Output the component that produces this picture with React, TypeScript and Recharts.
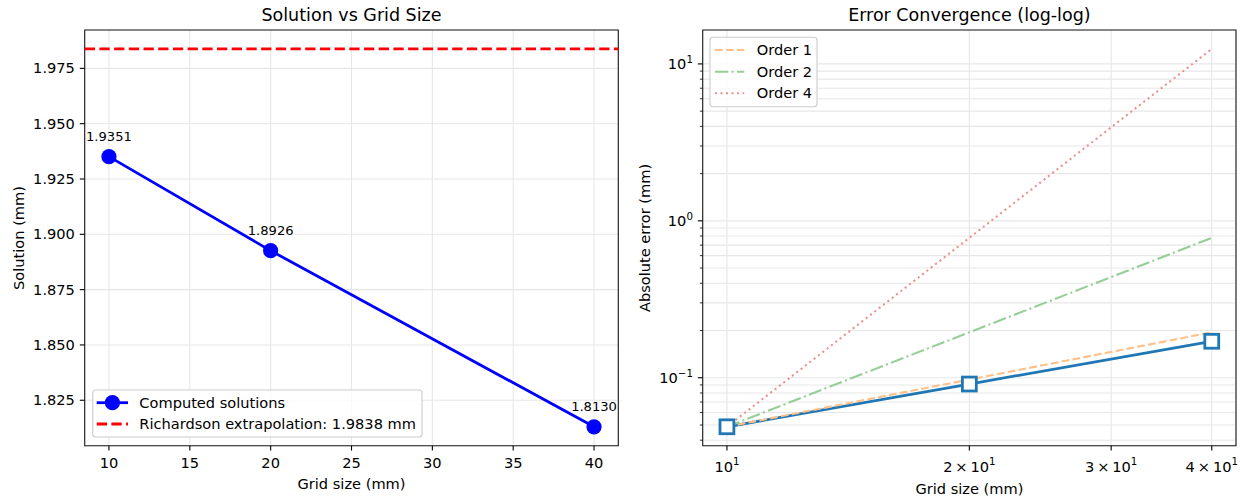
import React from 'react';
import { LineChart, Line, XAxis, YAxis, CartesianGrid, ReferenceLine, ReferenceArea, LabelList } from 'recharts';

// ---------- data ----------
const gridSizes = [10, 20, 40];
const solutions = [1.9351, 1.8926, 1.813];
const richardsonValue = 1.9838;
const absErrors = [0.0487, 0.0912, 0.1708];
const order1Ref = [0.0487, 0.0974, 0.1948];
const order2Ref = [0.0487, 0.1948, 0.7792];
const order4Ref = [0.0487, 0.7792, 12.467];

const leftXTicks = [10, 15, 20, 25, 30, 35, 40];
const leftYTicks = [1.825, 1.85, 1.875, 1.9, 1.925, 1.95, 1.975];
const rightXTicks = [10, 20, 30, 40];
const rightXTickMantissa = ['', '2', '3', '4'];
const rightYTicks = [
  0.04, 0.05, 0.06, 0.07, 0.08, 0.09,
  0.1, 0.2, 0.3, 0.4, 0.5, 0.6, 0.7, 0.8, 0.9,
  1, 2, 3, 4, 5, 6, 7, 8, 9, 10,
];
const rightYMajor = [0.1, 1, 10];
const rightYExponents = ['\u22121', '0', '1'];

const leftData = gridSizes.map((g, i) => ({ grid: g, solution: solutions[i] }));
const rightData = gridSizes.map((g, i) => ({
  grid: g,
  error: absErrors[i],
  o1: order1Ref[i],
  o2: order2Ref[i],
  o4: order4Ref[i],
}));

// ---------- styles ----------
const FONT = 'DejaVu Sans, sans-serif';
const TICK_FS = 14.6;
const SUP_FS = 10.2;
const TITLE_FS = 17.5;
const ANN_FS = 13.1;
const GRID = '#e7e7e7';
const FRAME = '#1a1a1a';

const LeftXTick = (p: any) => (
  <g>
    <line x1={p.x} x2={p.x} y1={p.y} y2={p.y + 4.9} stroke="#000" strokeWidth={1.1} />
    <text x={p.x} y={p.y + 22.6} textAnchor="middle" fontSize={TICK_FS} fill="#000" fontFamily={FONT}>
      {p.payload.value}
    </text>
  </g>
);

const LeftYTick = (p: any) => (
  <g>
    <line x1={p.x - 4.9} x2={p.x} y1={p.y} y2={p.y} stroke="#000" strokeWidth={1.1} />
    <text x={p.x - 9.8} y={p.y + 5.1} textAnchor="end" fontSize={TICK_FS} fill="#000" fontFamily={FONT}>
      {Number(p.payload.value).toFixed(3)}
    </text>
  </g>
);

const RightXTick = (p: any) => {
  const idx = rightXTicks.indexOf(p.payload.value);
  const m = rightXTickMantissa[idx] || '';
  return (
    <g>
      <line x1={p.x} x2={p.x} y1={p.y} y2={p.y + 4.9} stroke="#000" strokeWidth={1.1} />
      <text x={p.x} y={p.y + 25.8} textAnchor="middle" fontSize={TICK_FS} fill="#000" fontFamily={FONT}>
        {(m ? m + '\u2009\u00d7\u2009' : '') + '10'}
        <tspan dy={-6.3} fontSize={SUP_FS}>1</tspan>
      </text>
    </g>
  );
};

const RightYTick = (p: any) => {
  const v = p.payload.value;
  const mi = rightYMajor.findIndex((t) => Math.abs(t - v) < 1e-9);
  if (mi < 0) {
    return <line x1={p.x - 2.8} x2={p.x} y1={p.y} y2={p.y} stroke="#000" strokeWidth={0.8} />;
  }
  return (
    <g>
      <line x1={p.x - 4.9} x2={p.x} y1={p.y} y2={p.y} stroke="#000" strokeWidth={1.1} />
      <text x={p.x - 9.8} y={p.y + 5.1} textAnchor="end" fontSize={TICK_FS} fill="#000" fontFamily={FONT}>
        10
        <tspan dy={-6.3} fontSize={SUP_FS}>{rightYExponents[mi]}</tspan>
      </text>
    </g>
  );
};

const SolutionLabel = (p: any) => (
  <text x={p.x} y={p.y - 15.5} textAnchor="middle" fontSize={ANN_FS} fill="#000" fontFamily={FONT}>
    {Number(p.value).toFixed(4)}
  </text>
);

const SquareDot = (p: any) => {
  if (p.cx == null || p.cy == null) return null;
  const s = 13.9;
  return (
    <rect
      key={`sq-${p.index}`}
      x={p.cx - s / 2}
      y={p.cy - s / 2}
      width={s}
      height={s}
      fill="#ffffff"
      stroke="#1f77b4"
      strokeWidth={2.8}
    />
  );
};

export default function App() {
  return (
    <div
      style={{
        position: 'absolute',
        left: 0,
        top: 0,
        width: 1244,
        height: 498,
        background: '#fff',
        fontFamily: FONT,
        overflow: 'hidden',
      }}
    >
      {/* Left chart */}
      <div style={{ position: 'absolute', left: 0, top: 0 }}>
        <LineChart width={620} height={498} data={leftData} margin={{ top: 30, right: 1.7, bottom: 0, left: 0 }}>
          <CartesianGrid stroke={GRID} strokeWidth={1.1} />
          <XAxis
            dataKey="grid"
            type="number"
            domain={[8.5, 41.5]}
            ticks={leftXTicks}
            allowDataOverflow
            interval={0}
            height={52.3}
            tickSize={0}
            tickMargin={0}
            axisLine={false}
            tickLine={false}
            tick={LeftXTick}
          />
          <YAxis
            type="number"
            domain={[1.80446, 1.99234]}
            ticks={leftYTicks}
            allowDataOverflow
            interval={0}
            width={84.7}
            tickSize={0}
            tickMargin={0}
            axisLine={false}
            tickLine={false}
            tick={LeftYTick}
          />
          <Line
            dataKey="solution"
            stroke="#0000ff"
            strokeWidth={2.8}
            dot={{ r: 7.6, fill: '#0000ff', stroke: '#0000ff', strokeWidth: 0 }}
            isAnimationActive={false}
          >
            <LabelList dataKey="solution" content={SolutionLabel} />
          </Line>
          <ReferenceLine y={richardsonValue} stroke="#ff0000" strokeWidth={2.8} strokeDasharray="10.3 4.4" />
          <ReferenceArea x1={8.5} x2={41.5} y1={1.80446} y2={1.99234} fill="none" stroke={FRAME} strokeWidth={1.1} fillOpacity={0} />
          <text x={351.5} y={21} textAnchor="middle" fontSize={TITLE_FS} fill="#000" fontFamily={FONT}>
            Solution vs Grid Size
          </text>
          <text x={351.5} y={489} textAnchor="middle" fontSize={TICK_FS} fill="#000" fontFamily={FONT}>
            Grid size (mm)
          </text>
          <text
            x={18.5}
            y={238}
            textAnchor="middle"
            dominantBaseline="central"
            fontSize={TICK_FS}
            fill="#000"
            fontFamily={FONT}
            transform="rotate(-90 18.5 238)"
          >
            Solution (mm)
          </text>
          {/* legend */}
          <g>
            <rect x={92.7} y={390} width={329.3} height={47} rx={3} fill="#ffffff" fillOpacity={0.8} stroke="#cccccc" strokeWidth={1.1} />
            <line x1={96.7} x2={128} y1={402.7} y2={402.7} stroke="#0000ff" strokeWidth={2.8} />
            <circle cx={112.4} cy={402.7} r={7.6} fill="#0000ff" />
            <text x={139.3} y={402.7 + 5.1} fontSize={TICK_FS} fill="#000" fontFamily={FONT}>
              Computed solutions
            </text>
            <line x1={96.7} x2={128} y1={424} y2={424} stroke="#ff0000" strokeWidth={2.8} strokeDasharray="10.3 4.4" />
            <text x={139.3} y={424 + 5.1} fontSize={TICK_FS} fill="#000" fontFamily={FONT}>
              Richardson extrapolation: 1.9838 mm
            </text>
          </g>
        </LineChart>
      </div>

      {/* Right chart */}
      <div style={{ position: 'absolute', left: 620, top: 0 }}>
        <LineChart width={624} height={498} data={rightData} margin={{ top: 30, right: 8, bottom: 0, left: 0 }}>
          <CartesianGrid stroke={GRID} strokeWidth={1.1} />
          <XAxis
            dataKey="grid"
            type="number"
            scale="log"
            domain={[9.3303, 42.871]}
            ticks={rightXTicks}
            allowDataOverflow
            interval={0}
            height={52.3}
            tickSize={0}
            tickMargin={0}
            axisLine={false}
            tickLine={false}
            tick={RightXTick}
          />
          <YAxis
            type="number"
            scale="log"
            domain={[0.036895, 16.451]}
            ticks={rightYTicks}
            allowDataOverflow
            interval={0}
            width={82.7}
            tickSize={0}
            tickMargin={0}
            axisLine={false}
            tickLine={false}
            tick={RightYTick}
          />
          <Line
            dataKey="error"
            stroke="#1f77b4"
            strokeWidth={2.8}
            dot={SquareDot}
            isAnimationActive={false}
          />
          <Line dataKey="o1" stroke="#ffbf86" strokeWidth={2.1} strokeDasharray="7.7 3.3" dot={false} isAnimationActive={false} />
          <Line dataKey="o2" stroke="#95cf95" strokeWidth={2.1} strokeDasharray="13.3 3.3 2.1 3.3" dot={false} isAnimationActive={false} />
          <Line dataKey="o4" stroke="#ea9393" strokeWidth={2.1} strokeDasharray="2.1 3.4" dot={false} isAnimationActive={false} />
          <ReferenceArea x1={9.3303} x2={42.871} y1={0.036895} y2={16.451} fill="none" stroke={FRAME} strokeWidth={1.1} fillOpacity={0} />
          <text x={349.4} y={21} textAnchor="middle" fontSize={TITLE_FS} fill="#000" fontFamily={FONT}>
            Error Convergence (log-log)
          </text>
          <text x={349.4} y={493.5} textAnchor="middle" fontSize={TICK_FS} fill="#000" fontFamily={FONT}>
            Grid size (mm)
          </text>
          <text
            x={24.3}
            y={238}
            textAnchor="middle"
            dominantBaseline="central"
            fontSize={TICK_FS}
            fill="#000"
            fontFamily={FONT}
            transform="rotate(-90 24.3 238)"
          >
            Absolute error (mm)
          </text>
          {/* legend */}
          <g>
            <rect x={90} y={37.3} width={107} height={69.4} rx={3} fill="#ffffff" fillOpacity={0.8} stroke="#cccccc" strokeWidth={1.1} />
            <line x1={95} x2={124.3} y1={50} y2={50} stroke="#ffbf86" strokeWidth={2.1} strokeDasharray="7.7 3.3" />
            <text x={136.7} y={50 + 5.1} fontSize={TICK_FS} fill="#000" fontFamily={FONT}>Order 1</text>
            <line x1={95} x2={124.3} y1={71.7} y2={71.7} stroke="#95cf95" strokeWidth={2.1} strokeDasharray="13.3 3.3 2.1 3.3" />
            <text x={136.7} y={71.7 + 5.1} fontSize={TICK_FS} fill="#000" fontFamily={FONT}>Order 2</text>
            <line x1={95} x2={124.3} y1={93.3} y2={93.3} stroke="#ea9393" strokeWidth={2.1} strokeDasharray="2.1 3.4" />
            <text x={136.7} y={93.3 + 5.1} fontSize={TICK_FS} fill="#000" fontFamily={FONT}>Order 4</text>
          </g>
        </LineChart>
      </div>
    </div>
  );
}
